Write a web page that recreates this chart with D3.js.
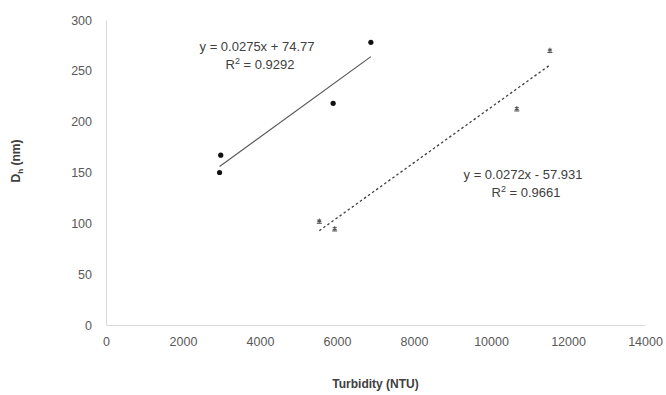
<!DOCTYPE html>
<html>
<head>
<meta charset="utf-8">
<script src="https://cdn.jsdelivr.net/npm/d3@7"></script>
<style>
  body { margin: 0; background: #fff; }
  text { font-family: "Liberation Sans", Arial, sans-serif; }
</style>
</head>
<body>
<div id="chart"></div>
<script>
// series 1 (filled dots)
const turb1 = [2950, 2980, 5900, 6880];
const dh1 = [150, 167, 218, 278];
// series 2 (star markers)
const turb2 = [5540, 5940, 10670, 11530];
const dh2 = [102.5, 95, 213, 270.5];
// trend lines: slope, intercept, and x-range
const fit1 = {m: 0.0275, b: 74.77, x0: 2950, x1: 6880};
const fit2 = {m: 0.0272, b: -57.931, x0: 5540, x1: 11530};
const xTicks = [0, 2000, 4000, 6000, 8000, 10000, 12000, 14000];
const yTicks = [0, 50, 100, 150, 200, 250, 300];

const margin = {top: 20, right: 21, bottom: 70, left: 106};
const width = 666 - margin.left - margin.right;
const height = 395 - margin.top - margin.bottom;

const svg = d3.select("#chart")
  .append("svg")
  .attr("width", 666)
  .attr("height", 395);

const chart = svg.append("g")
  .attr("transform", `translate(${margin.left}, ${margin.top})`);

const xScale = d3.scaleLinear().domain([0, 14000]).range([0, width]);
const yScale = d3.scaleLinear().domain([0, 300]).range([height, 0]);

// x axis
const xAxisGroup = chart.append("g")
  .attr("transform", `translate(0, ${height})`)
  .call(d3.axisBottom(xScale).tickValues(xTicks).tickFormat(d3.format("d"))
    .tickSize(0).tickSizeOuter(0).tickPadding(12));
xAxisGroup.select(".domain").attr("stroke", "#d9d9d9").attr("stroke-width", 1);
xAxisGroup.selectAll("text").attr("fill", "#595959").style("font-size", "12.5px");

// y axis
const yAxisGroup = chart.append("g")
  .call(d3.axisLeft(yScale).tickValues(yTicks).tickFormat(d3.format("d"))
    .tickSize(0).tickSizeOuter(0).tickPadding(14));
yAxisGroup.select(".domain").attr("stroke", "#d9d9d9").attr("stroke-width", 1);
yAxisGroup.selectAll("text").attr("fill", "#595959").style("font-size", "12.5px");

// trend lines
const line = d3.line().x(d => xScale(d[0])).y(d => yScale(d[1]));
chart.append("path")
  .attr("d", line([[fit1.x0, fit1.m * fit1.x0 + fit1.b], [fit1.x1, fit1.m * fit1.x1 + fit1.b]]))
  .attr("stroke", "#595959").attr("stroke-width", 1.2).attr("fill", "none");
chart.append("path")
  .attr("d", line([[fit2.x0, fit2.m * fit2.x0 + fit2.b], [fit2.x1, fit2.m * fit2.x1 + fit2.b]]))
  .attr("stroke", "#404040").attr("stroke-width", 1.3).attr("stroke-dasharray", "2.5,2.5").attr("fill", "none");

// series 1 markers
chart.append("g")
  .selectAll("circle")
  .data(turb1.map((t, i) => [t, dh1[i]]))
  .join("circle")
  .attr("cx", d => xScale(d[0]))
  .attr("cy", d => yScale(d[1]))
  .attr("r", 2.6)
  .attr("fill", "#111");

// series 2 markers (asterisk with bar)
const s2 = chart.append("g")
  .selectAll("g")
  .data(turb2.map((t, i) => [t, dh2[i]]))
  .join("g")
  .attr("transform", d => `translate(${xScale(d[0])}, ${yScale(d[1])})`);
s2.append("path")
  .attr("d", d3.symbol(d3.symbolAsterisk, 14)())
  .attr("stroke", "#555").attr("stroke-width", 1.1).attr("fill", "none");
s2.append("line")
  .attr("x1", -2.5).attr("x2", 2.5).attr("y1", 2.5).attr("y2", 2.5)
  .attr("stroke", "#555").attr("stroke-width", 1.1);

// equation labels
function eqLabel(x, y, eq, r2) {
  const g = svg.append("g").attr("fill", "#404040").style("font-size", "13px");
  g.append("text").attr("x", x).attr("y", y).attr("text-anchor", "middle").text(eq);
  const t = g.append("text").attr("x", x + 3).attr("y", y + 18).attr("text-anchor", "middle");
  t.append("tspan").text("R");
  t.append("tspan").attr("dy", -5).style("font-size", "9px").text("2");
  t.append("tspan").attr("dy", 5).text(" = " + r2);
}
eqLabel(257, 51, "y = 0.0275x + 74.77", "0.9292");
eqLabel(523, 179, "y = 0.0272x - 57.931", "0.9661");

// axis titles
svg.append("text")
  .attr("x", margin.left + width / 2)
  .attr("y", 388)
  .attr("text-anchor", "middle")
  .attr("fill", "#404040")
  .style("font-size", "12px")
  .style("font-weight", "bold")
  .text("Turbidity (NTU)");

const yt = svg.append("text")
  .attr("transform", "translate(20, 161) rotate(-90)")
  .attr("text-anchor", "middle")
  .attr("fill", "#404040")
  .style("font-size", "12px")
  .style("font-weight", "bold");
yt.append("tspan").text("D");
yt.append("tspan").attr("dy", 3).style("font-size", "8px").text("h");
yt.append("tspan").attr("dy", -3).text(" (nm)");
</script>
</body>
</html>
